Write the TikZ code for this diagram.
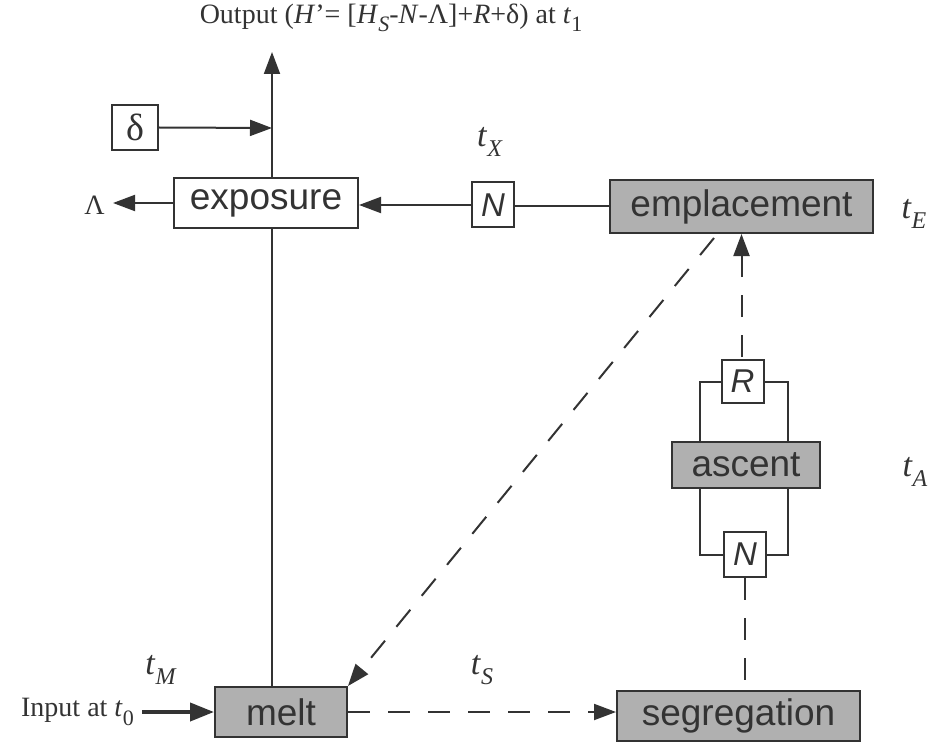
\documentclass[tikz,border=0pt]{standalone}
\usepackage{fontspec}
\setmainfont{Liberation Serif}
\newfontfamily\boxfont{Liberation Sans}
\usetikzlibrary{arrows.meta}
\definecolor{ink}{HTML}{333333}
\definecolor{boxgray}{HTML}{B0B0B0}
\newcommand\tsb[2]{\textit{#1}\raisebox{-0.3em}{\fontsize{22}{22}\selectfont #2}}
\newcommand\tbig[1]{{\fontsize{34}{34}\selectfont\textit{t}\raisebox{-0.3em}{\fontsize{24}{24}\selectfont\textit{#1}}}}
\tikzset{
  stage/.style={draw=ink, line width=2pt, fill=boxgray, inner sep=0pt, font=\boxfont\fontsize{37}{37}\selectfont, text=ink},
  plainbox/.style={draw=ink, line width=2pt, fill=white, inner sep=0pt, font=\boxfont\fontsize{37}{37}\selectfont, text=ink},
  smallbox/.style={draw=ink, line width=2pt, fill=white, inner sep=0pt, minimum width=42pt, minimum height=45pt, font=\boxfont\itshape\fontsize{33}{33}\selectfont, text=ink},
  lbl/.style={font=\fontsize{28}{28}\selectfont, text=ink, inner sep=0pt},
  conn/.style={draw=ink, line width=2pt},
  arr/.style={conn, -{Triangle[length=22pt,width=16pt]}},
  dashedconn/.style={conn, dash pattern=on 22pt off 18pt},
  dashedarr/.style={dashedconn, -{Triangle[length=22pt,width=16pt]}},
}
\begin{document}
\begin{tikzpicture}[x=1pt,y=-1pt]
\useasboundingbox (0,0) rectangle (936,743);
% boxes
\node[plainbox, minimum width=184pt, minimum height=50pt] (exp) at (266,203) {exposure};
\node[stage, minimum width=263pt, minimum height=53pt] (emp) at (741.5,206.5) {emplacement};
\node[stage, minimum width=148pt, minimum height=46pt] (asc) at (746,465) {ascent};
\node[stage, minimum width=243pt, minimum height=50pt] (seg) at (738.5,716) {segregation};
\node[stage, minimum width=132pt, minimum height=50pt] (melt) at (281,712) {melt};
\node[smallbox] (Ntop) at (493,205) {N};
\node[smallbox, minimum height=43pt] (R) at (742.5,381.5) {R};
\node[smallbox] (Nlow) at (745,554.5) {N};
\node[smallbox, minimum width=46pt, font=\fontsize{38}{38}\selectfont] (del) at (135,127.5) {δ};
% labels
\node[lbl] (title) at (391,18) {Output (\textit{H}'= [\textit{H}\raisebox{-0.3em}{\fontsize{22}{22}\selectfont\textit{S}}-\textit{N}-Λ]+\textit{R}+δ) at \tsb{t}{1}};
\node[lbl, anchor=east] (lam) at (105,205) {Λ};
\node[lbl, anchor=east] (input) at (134,712) {Input at \tsb{t}{0}};
\node[lbl] (tX) at (490,142) {\tbig{X}};
\node[lbl] (tE) at (914,214) {\tbig{E}};
\node[lbl] (tA) at (915,472) {\tbig{A}};
\node[lbl] (tM) at (161,670) {\tbig{M}};
\node[lbl] (tS) at (482,670) {\tbig{S}};
% coordinates
\coordinate (out) at (272,52);
\coordinate (join) at (272,128);
\coordinate (lamtip) at (113,203);
% connectors
\draw[conn] (melt.north -| join) -- (exp.south -| join);
\draw[arr] (exp.north -| join) -- (out);
\draw[arr] (del.east) -- (join);
\draw[arr] (exp.west) -- (lamtip);
\draw[conn] (emp.west) -- (emp.west -| Ntop.east);
\draw[arr] (Ntop.west) -- (exp.east |- Ntop.west);
\draw[conn] (R.west) -- (700,381.5) -- (700,442);
\draw[conn] (R.east) -- (788,381.5) -- (788,442);
\draw[conn] (700,488) -- (700,554.5) -- (Nlow.west);
\draw[conn] (788,488) -- (788,554.5) -- (Nlow.east);
\draw[dashedarr] (R.north -| emp.south) ++(0,-2) -- (emp.south);
\draw[dashedconn] (Nlow.south) -- (seg.north -| Nlow.south);
\draw[dashedarr] (melt.east) -- (seg.west |- melt.east);
\draw[dashedarr] (emp.south west) ++(105,4) -- (melt.north east);
\draw[conn, line width=4pt, -{Triangle[length=24pt,width=18pt]}] (input.east) ++(8,0) -- (melt.west);
\end{tikzpicture}
\end{document}
